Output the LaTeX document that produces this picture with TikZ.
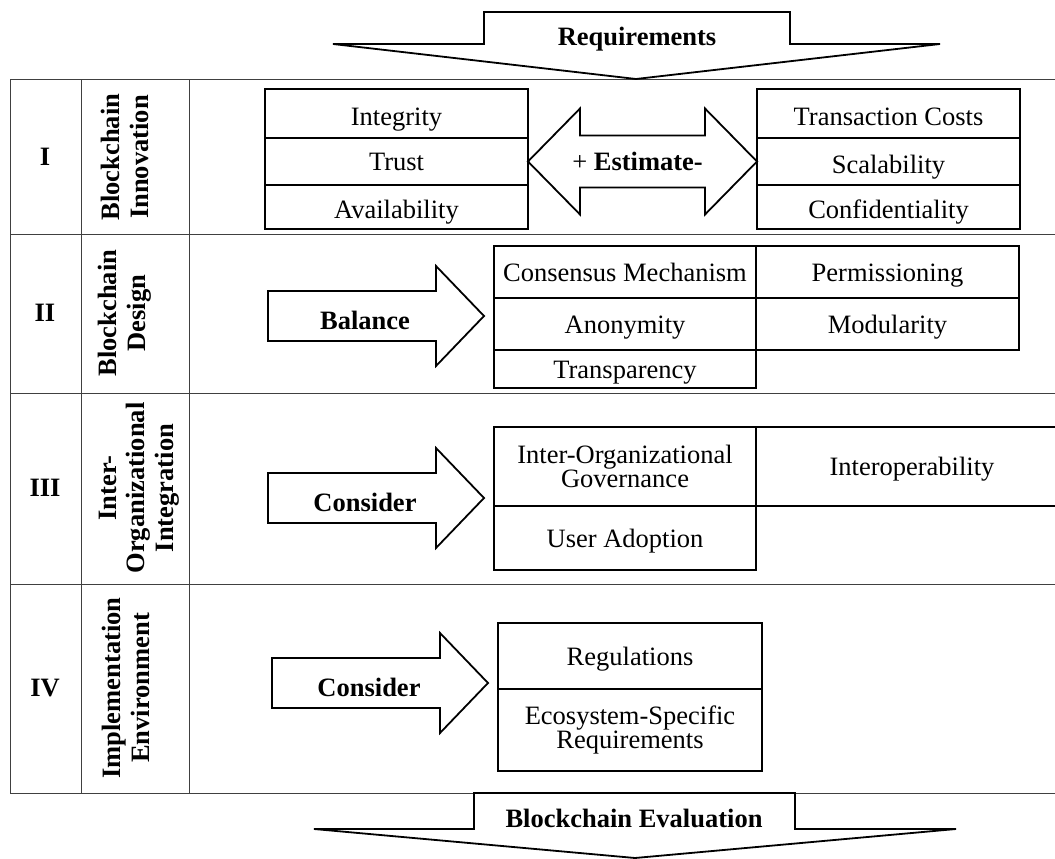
\documentclass[tikz,border=0pt]{standalone}
\usepackage{fontspec}
\setmainfont{Liberation Serif}
\usepackage{tikz}
\usetikzlibrary{positioning, calc}

\begin{document}
\begin{tikzpicture}[x=1pt, y=-1pt, every node/.style={font=\fontsize{26.5}{23}\selectfont}]
%
% Four rows (I-IV), each one with a block arrow and a set of boxes,
% between the two big arrows Requirements / Blockchain Evaluation.
%
\tikzstyle{tableline} = [line width=1pt, draw=black!75]
\tikzstyle{cell} = [rectangle, draw=black, line width=2pt, inner sep=0pt, outer sep=0pt, align=center, anchor=north west]
\tikzstyle{oneline} = [text height=21.2pt, text depth=2.6pt]
\tikzstyle{lowline} = [text height=23.8pt, text depth=0pt]
\tikzstyle{bigarrow} = [line width=1.8pt, draw=black, fill=white, line join=miter]
\tikzstyle{rowno} = [font=\fontsize{26.5}{23}\selectfont\bfseries]
\tikzstyle{rowname} = [rotate=90, align=center, inner sep=0pt, font=\fontsize{26.5}{28.7}\selectfont\bfseries]
\tikzstyle{verb} = [font=\fontsize{26.5}{23}\selectfont\bfseries]
\useasboundingbox (0,0) rectangle (1055,859);
\clip (0,0) rectangle (1055,859);
% Table
\foreach \yy in {80,234,393,584,793}
  \draw[tableline] (10,\yy) -- (1060,\yy);
\foreach \xx in {10,81,189}
  \draw[tableline] (\xx,80) -- (\xx,793);
\node[rowno] (numI) at (45,157) {I};
\node[rowno] (numII) at (45,313) {II};
\node[rowno] (numIII) at (45,488) {III};
\node[rowno] (numIV) at (45,688) {IV};
\node[rowname] (nameI) at (125,157) {Blockchain\\Innovation};
\node[rowname] (nameII) at (125,313) {Blockchain\\Design};
\node[rowname] (nameIII) at (139,488) {Inter-\\Organizational\\Integration};
\node[rowname] (nameIV) at (126,688) {Implementation\\Environment};
% Big arrows, top and bottom
\draw[bigarrow] (484,12) -- (790,12) -- (790,44) -- (940,44) -- (636,79) -- (333,44) -- (484,44) -- cycle;
\node[verb, anchor=base] (req) at (637,46) {Requirements};
\draw[bigarrow] (474,793) -- (795,793) -- (795,829) -- (956,829) -- (635,858) -- (314,829) -- (474,829) -- cycle;
\node[verb, anchor=base] (evalu) at (634,827) {Blockchain Evaluation};
% Row I
\node[cell, lowline, minimum width=263, minimum height=49] (integrity) at (265,89) {Integrity};
\node[cell, oneline, minimum width=263, minimum height=47, below=0pt of integrity] (trust) {Trust};
\node[cell, lowline, minimum width=263, minimum height=44, below=0pt of trust] (avail) {Availability};
\node[cell, lowline, minimum width=263, minimum height=49] (txcost) at (757,89) {Transaction Costs};
\node[cell, lowline, minimum width=263, minimum height=47, below=0pt of txcost] (scal) {Scalability};
\node[cell, lowline, minimum width=263, minimum height=44, below=0pt of scal] (conf) {Confidentiality};
\draw[bigarrow] (trust.east) -- ++(52,-53) -- ++(0,27) -- ++(125,0) -- ++(0,-27) -- (scal.west)
  -- ++(-52,53) -- ++(0,-27) -- ++(-125,0) -- ++(0,27) -- cycle;
\node (estimate) at ($(trust.east)!0.5!(scal.west)$) [xshift=-5pt] {+ \textbf{Estimate-}};
% Row II
\node[cell, oneline, minimum width=262, minimum height=52] (consensus) at (494,246) {Consensus Mechanism};
\node[cell, oneline, minimum width=262, minimum height=52, below=0pt of consensus] (anonym) {Anonymity};
\node[cell, oneline, minimum width=262, minimum height=38, below=0pt of anonym] (transp) {Transparency};
\node[cell, oneline, minimum width=263, minimum height=52] (permiss) at (756,246) {Permissioning};
\node[cell, oneline, minimum width=263, minimum height=52, below=0pt of permiss] (modul) {Modularity};
% Row III
\node[cell, minimum width=262, minimum height=79] (govern) at (494,427) {Inter-Organizational\\Governance};
\node[cell, oneline, minimum width=262, minimum height=64, below=0pt of govern] (adopt) {User Adoption};
\node[cell, oneline, minimum width=312, minimum height=79] (interop) at (756,427) {Interoperability};
% Row IV
\node[cell, oneline, minimum width=264, minimum height=66] (regul) at (498,623) {Regulations};
\node[cell, minimum width=264, minimum height=82, below=0pt of regul] (ecosys) {Ecosystem-Specific\\Requirements};
% Block arrows of rows II-IV
\foreach \ax/\ay/\word/\nm in {268/316/Balance/balance, 268/498/Consider/considerA, 272/683/Consider/considerB} {
  \draw[bigarrow] (\ax,\ay-25) -- ++(168,0) -- ++(0,-25) -- (\ax+216,\ay) -- (\ax+168,\ay+50) -- ++(0,-25) -- (\ax,\ay+25) -- cycle;
  \node[verb] (\nm) at (\ax+97,\ay+4) {\word};
}
\end{tikzpicture}
\end{document}
